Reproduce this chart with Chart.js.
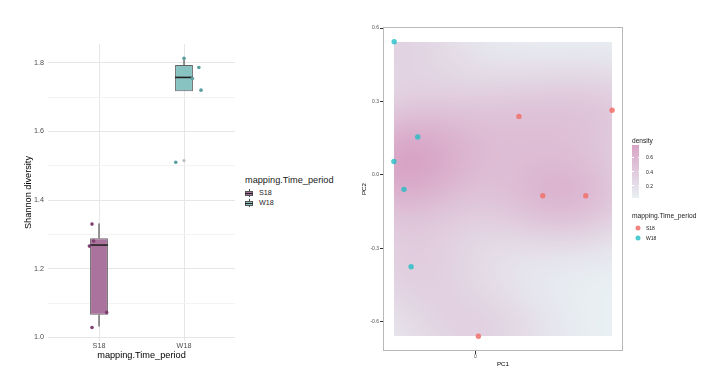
<!DOCTYPE html>
<html><head><meta charset="utf-8">
<script src="https://cdn.jsdelivr.net/npm/chart.js@4.4.1/dist/chart.umd.min.js"></script>
<style>
body{margin:0;background:#fff;width:713px;height:377px;overflow:hidden;position:relative;font-family:"Liberation Sans",Arial,sans-serif;}
canvas{position:absolute;top:0;}
#c1{left:0}
#c2{left:356px}
.t{position:absolute;white-space:nowrap;line-height:1.2;transform:translateY(-50%);color:#1a1a1a;}
.key{position:absolute;width:8px;height:8px;}
.key .wh{position:absolute;left:3.5px;top:0;width:1px;height:8px;background:#444;}
.key .bx{position:absolute;left:0;top:1.5px;width:6px;height:3px;border:1px solid #555;}
.key .md{position:absolute;left:0;top:3.5px;width:8px;height:1px;background:#222;}
.dot{position:absolute;width:5px;height:5px;border-radius:50%;transform:translate(-50%,-50%);}
#cbar{position:absolute;}
.cbt{position:absolute;height:1px;background:#fff;width:1.5px;}
</style></head><body>
<canvas id="c1" width="240" height="377"></canvas>
<canvas id="c2" width="357" height="377"></canvas>
<div id="legends"></div>
<script>
// ---------- Data: left panel (Shannon diversity boxplot) ----------
const categories = ['S18', 'W18'];
const s18Shannon = [1.330, 1.281, 1.266, 1.073, 1.029];
const s18Jitter  = [-0.082, -0.063, -0.113, 0.090, -0.082];
const w18Shannon = [1.813, 1.786, 1.754, 1.720, 1.510];
const w18Jitter  = [0.000, 0.175, 0.098, 0.200, -0.097];
const boxLower   = [1.066, 1.717];
const boxMedian  = [1.269, 1.757];
const boxUpper   = [1.289, 1.793];
const whiskerLow = [1.032, 1.717];
const whiskerHigh= [1.332, 1.815];
const outlierValues = [[], [1.515]];
const shannonTicks = [1.0, 1.2, 1.4, 1.6, 1.8];

// ---------- Data: right panel (PCA + density) ----------
const pcaGroup = ['W18','W18','W18','W18','W18','S18','S18','S18','S18','S18'];
const pc1 = [-0.331, -0.235, -0.332, -0.291, -0.262, 0.177, 0.556, 0.274, 0.449, 0.012];
const pc2 = [0.544, 0.155, 0.055, -0.059, -0.375, 0.239, 0.264, -0.085, -0.085, -0.659];
const pc1Ticks = [0];
const pc2Ticks = [-0.6, -0.3, 0.0, 0.3, 0.6];
const densityBreaks = [0.2, 0.4, 0.6];
const densityRange = [0.028, 0.772];

// ---------- Styles ----------
const FONT = '"Liberation Sans", Arial, sans-serif';
Chart.defaults.font.family = FONT;
const BOX_W = 0.21;
const boxFill = ['#aa739d', '#88c3c1'];
const pointCol = ['#7e3f70', '#5a9e9f'];
const groupCol = {S18: 'rgba(240,112,104,0.85)', W18: 'rgba(30,190,196,0.78)'};
const lowRGB = [232, 240, 243], highRGB = [216, 164, 198];

// ---------- Left chart ----------
const allLeft = [].concat(s18Shannon, w18Shannon, whiskerLow, whiskerHigh, ...outlierValues);
const lmin = Math.min(...allLeft), lmax = Math.max(...allLeft);
const lpad = (lmax - lmin) * 0.05;
const minorTicks = [];
for (let i = 0; i < shannonTicks.length; i++) {
  minorTicks.push(shannonTicks[i]);
  if (i < shannonTicks.length - 1) minorTicks.push((shannonTicks[i] + shannonTicks[i+1]) / 2);
}
const isMajor = v => shannonTicks.some(t => Math.abs(t - v) < 1e-9);

const leftDatasets = [];
leftDatasets.push({
  type: 'bar', order: 3,
  data: categories.map((c, i) => ({x: i + 1, y: [boxLower[i], boxUpper[i]]})),
  backgroundColor: boxFill, borderColor: 'rgba(70,70,70,0.85)', borderWidth: 1,
  borderSkipped: false, barPercentage: BOX_W, categoryPercentage: 1
});
categories.forEach((c, i) => {
  [[boxUpper[i], whiskerHigh[i]], [whiskerLow[i], boxLower[i]]].forEach(seg => {
    if (seg[1] - seg[0] > 1e-6) leftDatasets.push({
      type: 'line', order: 2, data: [{x: i + 1, y: seg[0]}, {x: i + 1, y: seg[1]}],
      borderColor: '#333', borderWidth: 1, pointRadius: 0, fill: false
    });
  });
  leftDatasets.push({
    type: 'line', order: 1,
    data: [{x: i + 1 - BOX_W / 2, y: boxMedian[i]}, {x: i + 1 + BOX_W / 2, y: boxMedian[i]}],
    borderColor: '#222', borderWidth: 1.6, pointRadius: 0, fill: false
  });
  if (outlierValues[i].length) leftDatasets.push({
    type: 'scatter', order: 1, data: outlierValues[i].map(v => ({x: i + 1, y: v})),
    backgroundColor: '#b8b8b8', borderWidth: 0, pointRadius: 1.5
  });
});
[[s18Shannon, s18Jitter], [w18Shannon, w18Jitter]].forEach((pair, i) => {
  leftDatasets.push({
    type: 'scatter', order: 0,
    data: pair[0].map((v, k) => ({x: i + 1 + pair[1][k], y: v})),
    backgroundColor: pointCol[i], borderWidth: 0, pointRadius: 1.8
  });
});

new Chart(document.getElementById('c1'), {
  type: 'scatter',
  data: {datasets: leftDatasets},
  options: {
    responsive: false, animation: false, devicePixelRatio: 1,
    layout: {padding: {left: 0, right: 5, top: 44, bottom: 0}},
    plugins: {legend: {display: false}, tooltip: {enabled: false}},
    scales: {
      x: {
        type: 'linear', min: 0.4, max: categories.length + 0.6, offset: false,
        afterBuildTicks: ax => { ax.ticks = categories.map((c, i) => ({value: i + 1})); },
        afterFit: ax => { ax.height = 36; },
        grid: {drawTicks: false, color: '#e6e6e6', lineWidth: 1, offset: false},
        border: {display: false},
        ticks: {padding: 1, autoSkip: false, maxRotation: 0, color: '#4d4d4d', font: {size: 7.2},
                callback: v => categories[Math.round(v) - 1]},
        title: {display: true, text: 'mapping.Time_period', color: '#000', font: {size: 9.2},
                padding: {top: 0, bottom: 16}}
      },
      y: {
        type: 'linear', min: lmin - lpad, max: lmax + lpad,
        afterBuildTicks: ax => { ax.ticks = minorTicks.map(v => ({value: v})); },
        afterFit: ax => { ax.width = 48; },
        grid: {drawTicks: false, lineWidth: 1,
               color: ctx => (ctx.tick && isMajor(ctx.tick.value)) ? '#e6e6e6' : '#f3f3f3'},
        border: {display: false},
        ticks: {padding: 4, autoSkip: false, color: '#4d4d4d', font: {size: 7.2},
                callback: v => isMajor(v) ? v.toFixed(1) : ''},
        title: {display: true, text: 'Shannon diversity', color: '#000', font: {size: 9.2},
                padding: {top: 23, bottom: 0}}
      }
    }
  }
});

// ---------- Right chart ----------
function q7(arr, p) {
  const s = [...arr].sort((a, b) => a - b);
  const h = (s.length - 1) * p, lo = Math.floor(h);
  const hi = Math.min(lo + 1, s.length - 1);
  return s[lo] + (h - lo) * (s[hi] - s[lo]);
}
function bwNrd(x) {
  const n = x.length, m = x.reduce((a, b) => a + b, 0) / n;
  const sd = Math.sqrt(x.reduce((a, b) => a + (b - m) ** 2, 0) / (n - 1));
  const iqr = (q7(x, 0.75) - q7(x, 0.25)) / 1.34;
  return 4 * 1.06 * Math.min(sd, iqr) * Math.pow(n, -0.2);
}
const densityPlugin = {
  id: 'densityRaster',
  beforeDatasetsDraw(chart) {
    const {ctx} = chart, xs = chart.scales.x, ys = chart.scales.y;
    const hx = bwNrd(pc1) / 4, hy = bwNrd(pc2) / 4;
    const L = Math.round(xs.getPixelForValue(Math.min(...pc1)));
    const R = Math.round(xs.getPixelForValue(Math.max(...pc1)));
    const T = Math.round(ys.getPixelForValue(Math.max(...pc2)));
    const B = Math.round(ys.getPixelForValue(Math.min(...pc2)));
    const w = R - L, h = B - T;
    const vx = [], vy = [];
    for (let i = 0; i < w; i++) vx.push(xs.getValueForPixel(L + i + 0.5));
    for (let j = 0; j < h; j++) vy.push(ys.getValueForPixel(T + j + 0.5));
    const vals = new Float64Array(w * h);
    let mn = Infinity, mx = -Infinity;
    const norm = 1 / (pc1.length * 2 * Math.PI * hx * hy);
    for (let j = 0; j < h; j++) for (let i = 0; i < w; i++) {
      let s = 0;
      for (let k = 0; k < pc1.length; k++) {
        const a = (vx[i] - pc1[k]) / hx, b = (vy[j] - pc2[k]) / hy;
        s += Math.exp(-0.5 * (a * a + b * b));
      }
      s *= norm;
      vals[j * w + i] = s;
      if (s < mn) mn = s; if (s > mx) mx = s;
    }
    const off = document.createElement('canvas');
    off.width = w; off.height = h;
    const octx = off.getContext('2d');
    const img = octx.createImageData(w, h);
    for (let p = 0; p < w * h; p++) {
      const t = (vals[p] - mn) / (mx - mn);
      img.data[p * 4]     = lowRGB[0] + (highRGB[0] - lowRGB[0]) * t;
      img.data[p * 4 + 1] = lowRGB[1] + (highRGB[1] - lowRGB[1]) * t;
      img.data[p * 4 + 2] = lowRGB[2] + (highRGB[2] - lowRGB[2]) * t;
      img.data[p * 4 + 3] = 255;
    }
    octx.putImageData(img, 0, 0);
    ctx.drawImage(off, L, T);
  }
};
const borderPlugin = {
  id: 'panelBorder',
  afterDraw(chart) {
    const {ctx, chartArea: a} = chart;
    ctx.save();
    ctx.strokeStyle = '#b8b8b8'; ctx.lineWidth = 1;
    ctx.strokeRect(Math.round(a.left) + 0.5, Math.round(a.top) + 0.5,
                   Math.round(a.right - a.left) - 1, Math.round(a.bottom - a.top) - 1);
    ctx.restore();
  }
};
const xPad = (Math.max(...pc1) - Math.min(...pc1)) * 0.05;
const yPad = (Math.max(...pc2) - Math.min(...pc2)) * 0.05;
const groups = ['S18', 'W18'];
new Chart(document.getElementById('c2'), {
  type: 'scatter',
  data: {
    datasets: groups.map(g => ({
      label: g,
      data: pc1.map((v, k) => ({x: v, y: pc2[k], g: pcaGroup[k]})).filter(d => d.g === g),
      backgroundColor: groupCol[g], borderWidth: 0, pointRadius: 2.7
    }))
  },
  options: {
    responsive: false, animation: false, devicePixelRatio: 1,
    layout: {padding: {left: 0, right: 90, top: 27, bottom: 0}},
    plugins: {legend: {display: false}, tooltip: {enabled: false}},
    scales: {
      x: {
        type: 'linear', min: Math.min(...pc1) - xPad, max: Math.max(...pc1) + xPad,
        afterBuildTicks: ax => { ax.ticks = pc1Ticks.map(v => ({value: v})); },
        afterFit: ax => { ax.height = 26; },
        grid: {drawOnChartArea: false, drawTicks: true, tickLength: 3, tickColor: '#333', tickWidth: 1},
        border: {display: false},
        ticks: {padding: 0, color: '#4d4d4d', font: {size: 5}, callback: v => String(v)},
        title: {display: true, text: 'PC1', color: '#000', font: {size: 6.2}, padding: {top: 0, bottom: 9}}
      },
      y: {
        type: 'linear', min: Math.min(...pc2) - yPad, max: Math.max(...pc2) + yPad,
        afterBuildTicks: ax => { ax.ticks = pc2Ticks.map(v => ({value: v})); },
        afterFit: ax => { ax.width = 27; },
        grid: {drawOnChartArea: false, drawTicks: true, tickLength: 3, tickColor: '#333', tickWidth: 1},
        border: {display: false},
        ticks: {padding: 1, color: '#4d4d4d', font: {size: 5}, callback: v => v.toFixed(1)},
        title: {display: true, text: 'PC2', color: '#000', font: {size: 6.2}, padding: {top: 5, bottom: 0}}
      }
    }
  },
  plugins: [densityPlugin, borderPlugin]
});

// ---------- Legends (HTML text) ----------
const lg = document.getElementById('legends');
function txt(s, x, y, size) {
  const d = document.createElement('div');
  d.className = 't'; d.textContent = s;
  d.style.left = x + 'px'; d.style.top = y + 'px'; d.style.fontSize = size + 'px';
  lg.appendChild(d); return d;
}
// left legend
txt('mapping.Time_period', 245, 181, 9.2);
categories.forEach((c, i) => {
  const cy = 193 + i * 10;
  const k = document.createElement('div');
  k.className = 'key'; k.style.left = '245px'; k.style.top = (cy - 4) + 'px';
  k.innerHTML = '<div class="wh"></div><div class="bx" style="background:' + boxFill[i] + '"></div><div class="md"></div>';
  lg.appendChild(k);
  txt(c, 259, cy, 7.2);
});
// right legend: density colourbar
txt('density', 632, 141, 6.6);
const barTop = 145, barH = 53, barL = 632, barW = 7;
const cb = document.createElement('div');
cb.id = 'cbar';
cb.style.cssText = 'left:' + barL + 'px;top:' + barTop + 'px;width:' + barW + 'px;height:' + barH + 'px;background:linear-gradient(to bottom, rgb(' + highRGB.join(',') + '), rgb(' + lowRGB.join(',') + '));';
lg.appendChild(cb);
densityBreaks.forEach(b => {
  const y = barTop + barH * (densityRange[1] - b) / (densityRange[1] - densityRange[0]);
  [barL, barL + barW - 1.5].forEach(xx => {
    const t = document.createElement('div');
    t.className = 'cbt'; t.style.left = xx + 'px'; t.style.top = (y - 0.5) + 'px';
    lg.appendChild(t);
  });
  txt(b.toFixed(1), 646, y, 5);
});
// right legend: groups
txt('mapping.Time_period', 632, 216, 6.7);
groups.forEach((g, i) => {
  const cy = 227.7 + i * 10.6;
  const d = document.createElement('div');
  d.className = 'dot'; d.style.left = '638.3px'; d.style.top = cy + 'px'; d.style.background = groupCol[g];
  lg.appendChild(d);
  txt(g, 646, cy, 5);
});
</script>
</body></html>
